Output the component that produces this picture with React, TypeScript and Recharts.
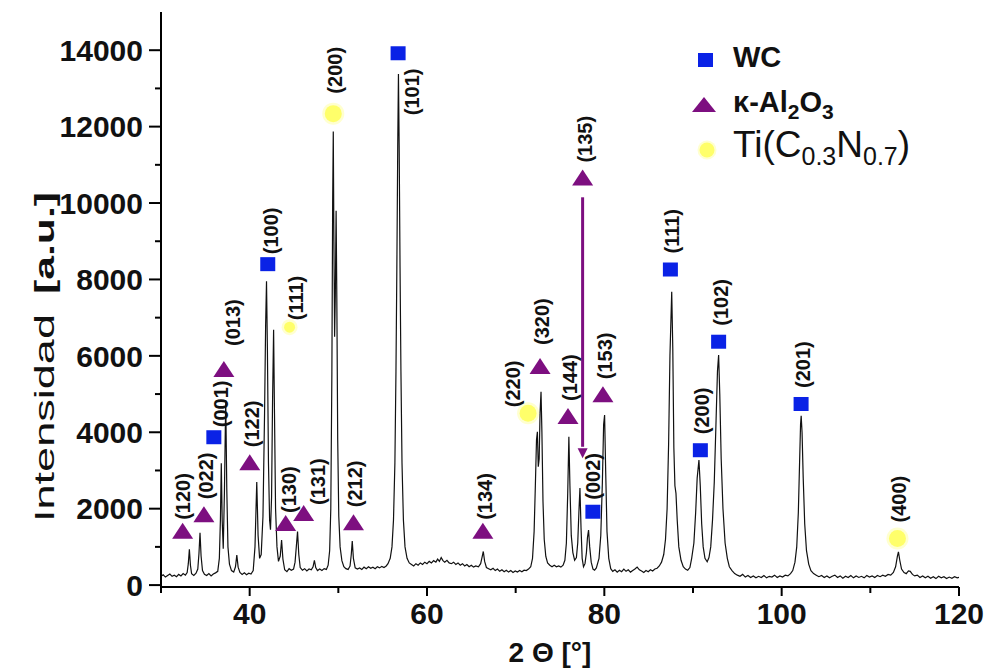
import React from 'react'
import { ComposedChart, Line, Scatter, XAxis, YAxis, ReferenceLine, ReferenceDot } from 'recharts'

// 2θ (deg) vs intensity (a.u.), split by angular range
const scan30to45: [number, number][] = [
  [30.0, 230], [30.25, 270], [30.5, 210], [30.75, 250], [31.0, 290], [31.25, 230], [31.5, 260], [31.75, 220],
  [32.0, 280], [32.25, 240], [32.5, 300], [32.75, 260], [32.95, 330], [33.08, 560], [33.2, 935], [33.32, 520],
  [33.45, 300], [33.7, 250], [33.95, 310], [34.15, 420], [34.28, 820], [34.4, 1370], [34.52, 760], [34.68, 380],
  [34.9, 280], [35.15, 250], [35.4, 300], [35.65, 240], [35.9, 290], [36.15, 320], [36.4, 360], [36.58, 700],
  [36.7, 1700], [36.8, 3190], [36.9, 1700], [37.02, 950], [37.15, 2400], [37.3, 4840], [37.42, 2500], [37.55, 1000],
  [37.72, 550], [37.95, 380], [38.2, 340], [38.4, 480], [38.55, 785], [38.7, 470], [38.9, 330], [39.15, 280],
  [39.4, 320], [39.65, 270], [39.9, 310], [40.15, 290], [40.4, 380], [40.6, 1000], [40.8, 2700], [40.95, 1300],
  [41.12, 700], [41.3, 800], [41.5, 1800], [41.68, 4500], [41.8, 6800], [41.9, 7950], [42.0, 6200], [42.12, 3200],
  [42.25, 1700], [42.35, 1450], [42.47, 2300], [42.58, 4800], [42.7, 6680], [42.8, 4500], [42.92, 2000], [43.08, 1000],
  [43.25, 620], [43.45, 760], [43.6, 1180], [43.75, 680], [43.95, 400], [44.2, 350], [44.45, 430], [44.7, 390],
  [44.95, 420], [45.12, 600], [45.26, 1000], [45.4, 1400], [45.54, 800], [45.7, 460],
]

const scan45to60: [number, number][] = [
  [45.95, 390], [46.2, 430], [46.45, 370], [46.7, 420], [46.95, 400], [47.15, 480], [47.3, 650], [47.45, 460],
  [47.65, 380], [47.9, 420], [48.15, 380], [48.4, 430], [48.65, 410], [48.85, 520], [49.02, 900], [49.15, 2000],
  [49.27, 5500], [49.36, 10000], [49.43, 11870], [49.5, 9000], [49.58, 6500], [49.66, 7600], [49.75, 9800], [49.83, 7500],
  [49.93, 3800], [50.05, 1800], [50.2, 1000], [50.4, 640], [50.62, 480], [50.85, 430], [51.1, 410], [51.32, 500],
  [51.46, 800], [51.57, 1150], [51.7, 700], [51.9, 450], [52.15, 420], [52.4, 450], [52.65, 410], [52.9, 470],
  [53.15, 430], [53.4, 480], [53.65, 440], [53.9, 470], [54.15, 430], [54.4, 480], [54.65, 450], [54.9, 490],
  [55.15, 460], [55.4, 500], [55.6, 560], [55.85, 700], [56.05, 1000], [56.22, 1700], [56.38, 3200], [56.5, 5600],
  [56.6, 8300], [56.7, 11500], [56.78, 13380], [56.86, 11500], [56.96, 8300], [57.06, 5600], [57.18, 3200], [57.34, 1700],
  [57.52, 1000], [57.75, 700], [58.0, 580], [58.25, 540], [58.5, 500], [58.75, 560], [59.0, 520], [59.25, 580],
  [59.5, 540], [59.75, 600],
]

const scan60to81: [number, number][] = [
  [60.0, 560], [60.25, 620], [60.5, 580], [60.75, 640], [61.0, 600], [61.2, 680], [61.4, 620], [61.6, 720],
  [61.8, 640], [62.0, 600], [62.25, 650], [62.5, 580], [62.75, 560], [63.0, 600], [63.25, 540], [63.5, 580],
  [63.75, 520], [64.0, 560], [64.25, 500], [64.5, 540], [64.75, 480], [65.0, 520], [65.25, 470], [65.5, 500],
  [65.8, 480], [66.05, 560], [66.2, 720], [66.35, 880], [66.5, 620], [66.7, 460], [66.95, 430], [67.2, 400],
  [67.45, 440], [67.7, 380], [67.95, 420], [68.2, 360], [68.45, 400], [68.7, 350], [68.95, 390], [69.2, 340],
  [69.45, 380], [69.7, 330], [69.95, 370], [70.2, 340], [70.45, 380], [70.7, 350], [70.95, 390], [71.2, 380],
  [71.45, 420], [71.7, 480], [71.9, 700], [72.08, 1400], [72.22, 2600], [72.35, 3800], [72.45, 4010], [72.55, 3100],
  [72.65, 3300], [72.75, 4500], [72.86, 5060], [72.96, 4000], [73.08, 2200], [73.22, 1200], [73.4, 750], [73.6, 580],
  [73.85, 520], [74.1, 480], [74.35, 520], [74.6, 480], [74.85, 500], [75.1, 470], [75.35, 520], [75.55, 650],
  [75.72, 1100], [75.87, 2400], [76.0, 3880], [76.12, 2600], [76.27, 1300], [76.45, 850], [76.65, 650], [76.85, 720],
  [77.0, 1100], [77.13, 1900], [77.25, 2540], [77.37, 1500], [77.5, 700], [77.65, 480], [77.82, 560], [77.98, 850],
  [78.1, 1250], [78.22, 1440], [78.35, 1000], [78.52, 600], [78.72, 420], [78.9, 390], [79.1, 450], [79.4, 700],
  [79.6, 1300], [79.78, 2700], [79.92, 4200], [80.03, 4450], [80.15, 3000], [80.3, 1400], [80.5, 700], [80.72, 430],
]

const scan81to100: [number, number][] = [
  [80.95, 360], [81.2, 400], [81.45, 340], [81.7, 390], [81.95, 350], [82.2, 420], [82.45, 360], [82.7, 400],
  [82.95, 340], [83.2, 380], [83.45, 420], [83.7, 470], [83.95, 400], [84.2, 370], [84.45, 330], [84.7, 380],
  [84.95, 350], [85.2, 400], [85.45, 370], [85.7, 420], [85.95, 440], [86.2, 500], [86.45, 600], [86.7, 800],
  [86.9, 1200], [87.08, 2000], [87.25, 3700], [87.4, 6000], [87.6, 7680], [87.72, 6200], [87.84, 3600], [87.96, 2600],
  [88.08, 2400], [88.22, 1700], [88.4, 1000], [88.65, 650], [88.9, 480], [89.15, 420], [89.4, 390], [89.65, 460],
  [89.85, 700], [90.1, 1100], [90.3, 1900], [90.47, 2800], [90.67, 3270], [90.82, 2600], [90.98, 1600], [91.15, 1000],
  [91.35, 700], [91.6, 610], [91.8, 720], [92.0, 1000], [92.2, 1700], [92.4, 2700], [92.6, 4300], [92.76, 5600],
  [92.89, 6020], [93.02, 5000], [93.18, 3300], [93.38, 2000], [93.62, 1100], [93.87, 700], [94.1, 480], [94.4, 380],
  [94.7, 300], [95.0, 260], [95.3, 230], [95.6, 280], [95.9, 210], [96.2, 250], [96.5, 200], [96.8, 240],
  [97.1, 190], [97.4, 230], [97.7, 200], [98.0, 250], [98.3, 190], [98.6, 230], [98.9, 210], [99.2, 260],
  [99.5, 200],
]

const scan100to120: [number, number][] = [
  [99.8, 240], [100.1, 210], [100.4, 260], [100.7, 240], [101.0, 300], [101.25, 380], [101.5, 600], [101.7, 1000],
  [101.88, 1900], [102.02, 3200], [102.13, 4200], [102.2, 4430], [102.3, 4000], [102.43, 2800], [102.6, 1600], [102.8, 900],
  [103.05, 550], [103.3, 380], [103.6, 300], [103.9, 260], [104.2, 220], [104.5, 250], [104.8, 200], [105.1, 240],
  [105.4, 190], [105.7, 230], [106.0, 260], [106.3, 200], [106.6, 240], [106.9, 180], [107.2, 230], [107.5, 200],
  [107.8, 250], [108.1, 190], [108.4, 240], [108.7, 200], [109.0, 230], [109.3, 190], [109.6, 250], [109.9, 210],
  [110.2, 240], [110.5, 200], [110.8, 250], [111.1, 220], [111.4, 260], [111.7, 230], [112.0, 280], [112.3, 260],
  [112.6, 330], [112.85, 480], [113.05, 750], [113.17, 870], [113.32, 650], [113.52, 420], [113.8, 330], [114.05, 300],
  [114.3, 370], [114.5, 360], [114.75, 280], [115.0, 240], [115.3, 260], [115.6, 200], [115.9, 240], [116.2, 190],
  [116.5, 230], [116.8, 180], [117.1, 220], [117.4, 170], [117.7, 230], [118.0, 190], [118.3, 220], [118.6, 170],
  [118.9, 210], [119.2, 180], [119.5, 220], [119.8, 190], [120.0, 200],
]

// phase markers: position of each symbol (2θ, intensity) and its Miller indices
const wcPeaks = [
  { t: 35.96, i: 3870, hkl: '(001)' },
  { t: 42.04, i: 8400, hkl: '(100)' },
  { t: 56.74, i: 13920, hkl: '(101)' },
  { t: 78.71, i: 1920, hkl: '(002)' },
  { t: 87.45, i: 8260, hkl: '(111)' },
  { t: 90.83, i: 3530, hkl: '(200)' },
  { t: 92.89, i: 6370, hkl: '(102)' },
  { t: 102.19, i: 4740, hkl: '(201)' },
]

const alumPeaks = [
  { t: 32.44, i: 1395, hkl: '(120)' },
  { t: 34.84, i: 1830, hkl: '(022)' },
  { t: 37.09, i: 5630, hkl: '(013)' },
  { t: 40.01, i: 3190, hkl: '(122)' },
  { t: 44.06, i: 1600, hkl: '(130)' },
  { t: 46.09, i: 1860, hkl: '(131)' },
  { t: 51.71, i: 1620, hkl: '(212)' },
  { t: 66.3, i: 1395, hkl: '(134)' },
  { t: 72.75, i: 5710, hkl: '(320)' },
  { t: 75.9, i: 4400, hkl: '(144)' },
  { t: 77.55, i: 10640, hkl: '(135)' },
  { t: 79.84, i: 4970, hkl: '(153)' },
]

const ticnPeaks = [
  { t: 44.5, i: 6750, hkl: '(111)' },
  { t: 49.43, i: 12340, hkl: '(200)' },
  { t: 71.4, i: 4500, hkl: '(220)' },
  { t: 113.06, i: 1220, hkl: '(400)' },
]

// (135) reflection pointer
const arrow135 = { t: 77.55, from: 10150, to: 3320 }

const xTicks = [30, 40, 50, 60, 70, 80, 90, 100, 110, 120]
const xLabelled = [40, 60, 80, 100, 120]
const yTicks = [0, 1000, 2000, 3000, 4000, 5000, 6000, 7000, 8000, 9000, 10000, 11000, 12000, 13000, 14000]

const pattern = [...scan30to45, ...scan45to60, ...scan60to81, ...scan81to100, ...scan100to120].map(([t, i]) => ({ t, i }))

const FONT = '"Liberation Sans", Arial, Helvetica, sans-serif'
const BLUE = '#0a22e6'
const PURPLE = '#7d0f80'
const YELLOW = '#ffff6a'

// label offsets (label foot relative to symbol centre) where the figure moves them off the default spot
const LABEL_NUDGE: Record<string, [number, number]> = {
  'wc(001)': [7, -10],
  'wc(100)': [3, -10],
  'wc(101)': [14, 62],
  'wc(002)': [0, -12],
  'al(120)': [0, -12],
  'al(013)': [9, -24],
  'al(130)': [3, -11],
  'al(131)': [14, -9],
  'al(134)': [2, -12],
  'al(320)': [2, -22],
  'ti(111)': [6, -7],
  'ti(200)': [2, -20],
  'ti(220)': [-15, -6],
}

function PhaseMark(props: any) {
  const { cx, cy, payload, phase } = props
  if (cx == null || cy == null) return null
  const [dx, dy] = LABEL_NUDGE[phase + payload.hkl] ?? [2, -16]
  let glyph
  if (phase === 'wc') {
    glyph = <rect x={cx - 7.5} y={cy - 7} width={15} height={14} fill={BLUE} />
  } else if (phase === 'al') {
    glyph = <polygon points={`${cx},${cy - 9} ${cx - 10.5},${cy + 7} ${cx + 10.5},${cy + 7}`} fill={PURPLE} />
  } else {
    const r = payload.hkl === '(111)' ? 5.5 : 8.5
    glyph = (
      <g>
        <circle cx={cx} cy={cy} r={r + 2.5} fill="#ffffd0" />
        <circle cx={cx} cy={cy} r={r} fill={YELLOW} />
      </g>
    )
  }
  return (
    <g>
      {glyph}
      <text
        transform={`translate(${cx + dx},${cy + dy}) rotate(-90)`}
        textAnchor="start"
        dominantBaseline="central"
        fontSize={20}
        fontWeight="bold"
        fontFamily={FONT}
        fill="#111"
      >
        {payload.hkl}
      </text>
    </g>
  )
}

function BottomTick({ x, y, payload }: any) {
  const major = xLabelled.includes(payload.value)
  return (
    <g>
      <line x1={x} x2={x} y1={y} y2={y + (major ? 9 : 6)} stroke="#000" strokeWidth={2} />
      {major && (
        <text x={x} y={y + 37} textAnchor="middle" fontSize={30} fontWeight="bold" fontFamily={FONT} fill="#111">
          {payload.value}
        </text>
      )}
    </g>
  )
}

function TopTick({ x, y, payload }: any) {
  const major = xLabelled.includes(payload.value)
  return <line x1={x} x2={x} y1={y} y2={y + (major ? 11 : 5)} stroke="#000" strokeWidth={2} />
}

function LeftTick({ x, y, payload }: any) {
  const major = payload.value % 2000 === 0
  return (
    <g>
      <line x1={x - (major ? 12 : 6)} x2={x} y1={y} y2={y} stroke="#000" strokeWidth={2} />
      {major && (
        <text x={x - 18} y={y} dy="0.36em" textAnchor="end" fontSize={30} fontWeight="bold" fontFamily={FONT} fill="#111">
          {payload.value}
        </text>
      )}
    </g>
  )
}

function RightTick({ x, y, payload }: any) {
  const major = payload.value % 2000 === 0
  return <line x1={x - (major ? 12 : 6)} x2={x} y1={y} y2={y} stroke="#000" strokeWidth={2} />
}

function ArrowHead({ cx, cy }: any) {
  if (cx == null || cy == null) return null
  return <polygon points={`${cx},${cy} ${cx - 5},${cy - 10} ${cx + 5},${cy - 10}`} fill={PURPLE} />
}

function XTitle() {
  return (
    <text x={550} y={662} textAnchor="middle" fontSize={28} fontWeight="bold" fontFamily={FONT} fill="#111">
      2 Θ [°]
    </text>
  )
}

// the figure's y title is a tall, condensed face; stretch it along its length
function YTitle() {
  return (
    <g fontFamily={FONT} fill="#111">
      <text transform="translate(54,522) rotate(-90)" fontSize={28} textLength={208} lengthAdjust="spacingAndGlyphs">
        Intensidad
      </text>
      <text transform="translate(54,294) rotate(-90)" fontSize={28} fontWeight="bold" textLength={102} lengthAdjust="spacingAndGlyphs">
        [a.u.]
      </text>
    </g>
  )
}

function PhaseLegend() {
  return (
    <svg width={990} height={670} style={{ position: 'absolute', left: 0, top: 0, pointerEvents: 'none' }}>
      <rect x={698} y={53} width={15} height={14} fill={BLUE} />
      <text x={733} y={67} fontSize={29} fontWeight="bold" fontFamily={FONT} fill="#111">WC</text>
      <polygon points="704,97 692,112 716,112" fill={PURPLE} />
      <text x={733} y={112} fontSize={29} fontWeight="bold" fontFamily={FONT} fill="#111">
        κ-Al<tspan fontSize={21} dy={7}>2</tspan><tspan dy={-7}>O</tspan><tspan fontSize={21} dy={7}>3</tspan>
      </text>
      <circle cx={707} cy={150} r={9.5} fill="#ffffd0" />
      <circle cx={707} cy={150} r={7.5} fill={YELLOW} />
      <text x={733} y={157} fontSize={37} fontFamily={FONT} fill="#111">
        Ti(C<tspan fontSize={25} dy={8}>0.3</tspan><tspan dy={-8}>N</tspan><tspan fontSize={25} dy={8}>0.7</tspan><tspan dy={-8}>)</tspan>
      </text>
    </svg>
  )
}

export default function App() {
  return (
    <div style={{ position: 'absolute', left: 0, top: 0, width: 990, height: 670, background: '#fff' }}>
      <ComposedChart width={990} height={670} data={pattern} margin={{ top: 12, right: 31, bottom: 0, left: 0 }}>
        <XAxis
          dataKey="t"
          type="number"
          domain={[30, 120]}
          ticks={xTicks}
          allowDataOverflow
          height={83}
          tickSize={0}
          tickMargin={0}
          tickLine={false}
          tick={<BottomTick />}
          axisLine={{ stroke: '#000', strokeWidth: 2 }}
          label={<XTitle />}
        />
        <XAxis
          xAxisId="top"
          orientation="top"
          mirror
          type="number"
          domain={[30, 120]}
          ticks={xTicks}
          allowDataOverflow
          height={0}
          tickSize={0}
          tickMargin={0}
          tickLine={false}
          tick={<TopTick />}
          axisLine={{ stroke: '#000', strokeWidth: 2 }}
        />
        <YAxis
          type="number"
          domain={[-50, 15000]}
          ticks={yTicks}
          allowDataOverflow
          width={161}
          tickSize={0}
          tickMargin={0}
          tickLine={false}
          tick={<LeftTick />}
          axisLine={{ stroke: '#000', strokeWidth: 2 }}
          label={<YTitle />}
        />
        <YAxis
          yAxisId="right"
          orientation="right"
          mirror
          type="number"
          domain={[-50, 15000]}
          ticks={yTicks}
          allowDataOverflow
          width={0}
          tickSize={0}
          tickMargin={0}
          tickLine={false}
          tick={<RightTick />}
          axisLine={{ stroke: '#000', strokeWidth: 2 }}
        />
        <Line dataKey="i" type="linear" stroke="#111" strokeWidth={1.2} dot={false} isAnimationActive={false} />
        <ReferenceLine
          segment={[{ x: arrow135.t, y: arrow135.from }, { x: arrow135.t, y: arrow135.to + 300 }]}
          stroke={PURPLE}
          strokeWidth={3}
        />
        <ReferenceDot x={arrow135.t} y={arrow135.to} r={5} shape={<ArrowHead />} />
        <Scatter data={wcPeaks} dataKey="i" isAnimationActive={false} shape={(p: any) => <PhaseMark {...p} phase="wc" />} />
        <Scatter data={alumPeaks} dataKey="i" isAnimationActive={false} shape={(p: any) => <PhaseMark {...p} phase="al" />} />
        <Scatter data={ticnPeaks} dataKey="i" isAnimationActive={false} shape={(p: any) => <PhaseMark {...p} phase="ti" />} />
      </ComposedChart>
      <PhaseLegend />
    </div>
  )
}
